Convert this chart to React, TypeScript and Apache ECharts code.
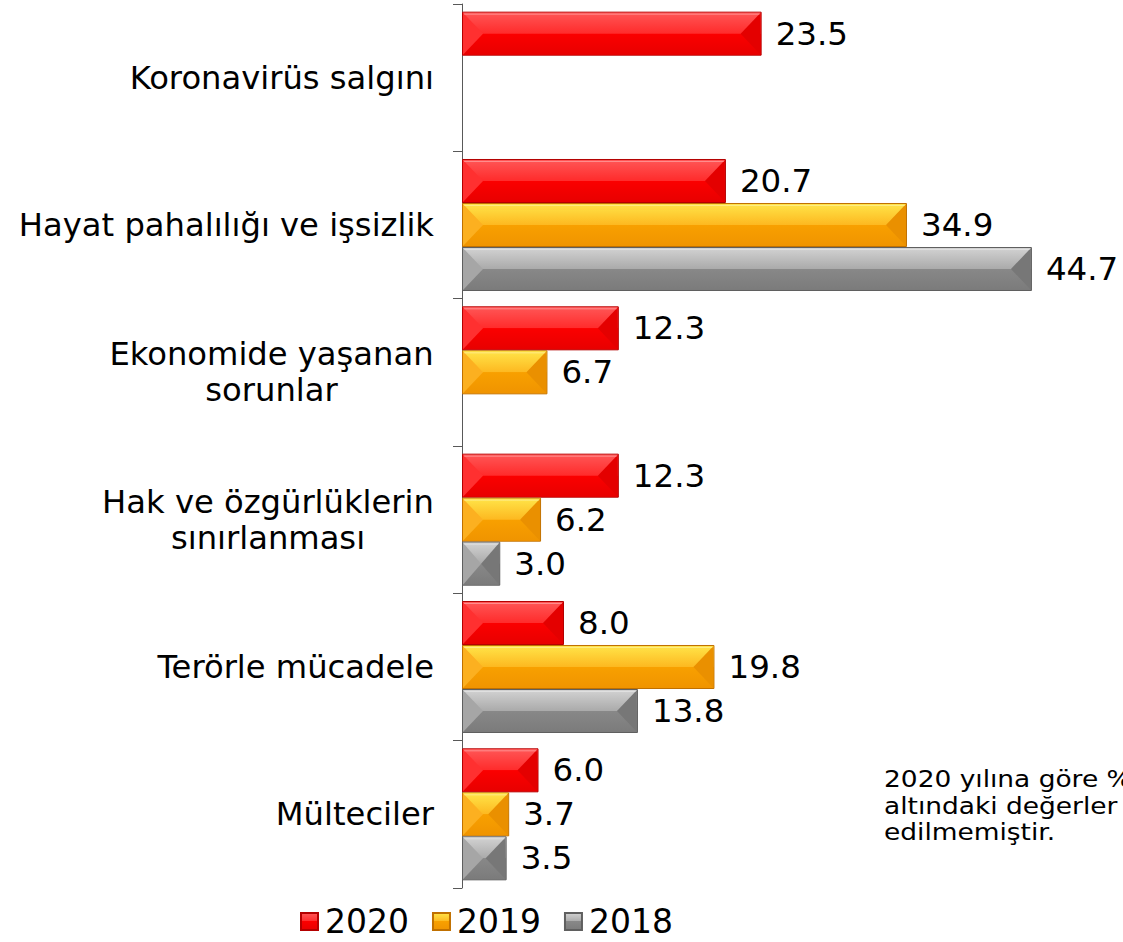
import React, { useEffect, useRef } from "react";
import * as echarts from "echarts";

const categories = [
  "Koronavirüs salgını",
  "Hayat pahalılığı ve işsizlik",
  "Ekonomide yaşanan\nsorunlar",
  "Hak ve özgürlüklerin\nsınırlanması",
  "Terörle mücadele",
  "Mülteciler",
];
const seriesNames = ["2020", "2019", "2018"];
const values2020 = [23.5, 20.7, 12.3, 12.3, 8.0, 6.0];
const values2019 = [null, 34.9, 6.7, 6.2, 19.8, 3.7];
const values2018 = [null, 44.7, null, 3.0, 13.8, 3.5];
const noteText = "2020 yılına göre %5\naltındaki değerler dahil\nedilmemiştir.";

const FONT = "Verdana, 'DejaVu Sans', sans-serif";
const GAP = 0.104;

function grad(stops: [number, string][]) {
  return new echarts.graphic.LinearGradient(
    0, 0, 0, 1,
    stops.map(([offset, color]) => ({ offset, color }))
  );
}

const palettes = [
  {
    base: "#f40000",
    border: "#b40000",
    top: ["#ff5656", "#ff2b2b"],
    bottom: ["#fb0000", "#e80000"],
    left: "#ff3030",
    right: "#e40000",
  },
  {
    base: "#f8a000",
    border: "#c07000",
    top: ["#ffe448", "#fdb820"],
    bottom: ["#f8a000", "#f09400"],
    left: "#fcb020",
    right: "#ea9000",
  },
  {
    base: "#888888",
    border: "#5f5f5f",
    top: ["#d2d2d2", "#aaaaaa"],
    bottom: ["#888888", "#7b7b7b"],
    left: "#a6a6a6",
    right: "#777777",
  },
];

function measure(text: string, size: number) {
  const c = document.createElement("canvas").getContext("2d");
  if (!c) return text.length * size * 0.6;
  c.font = `${size}px Verdana, 'DejaVu Sans', sans-serif`;
  return c.measureText(text).width;
}

export default function App() {
  const ref = useRef<HTMLDivElement>(null);
  useEffect(() => {
    document.body.style.margin = "0";
    if (!ref.current) return;
    const chart = echarts.init(ref.current, undefined, { renderer: "svg" });
    const labelSize = 32.2;
    const data = [values2020, values2019, values2018];

    const rich: Record<string, any> = {};
    const widthOf: Record<string, number> = {};
    categories.forEach((cat) => {
      const lines = cat.split("\n");
      if (lines.length > 1) {
        const w = Math.ceil(Math.max(...lines.map((l) => measure(l, labelSize))));
        widthOf[cat] = w;
        rich["c" + w] = {
          width: w,
          align: "center",
          fontSize: labelSize,
          fontFamily: FONT,
          color: "#000",
          lineHeight: 36,
        };
      }
    });

    const barSeries = seriesNames.map((name, i) => ({
      name,
      type: "bar",
      data: data[i],
      barGap: "0%",
      barCategoryGap: GAP * 100 + "%",
      z: 2,
      itemStyle: {
        color: grad([[0, palettes[i].top[0]], [0.5, palettes[i].top[1]], [0.5, palettes[i].bottom[0]], [1, palettes[i].bottom[1]]]),
        borderColor: palettes[i].border,
        borderWidth: 1,
      },
      label: {
        show: true,
        position: "right",
        distance: 14,
        fontSize: 32.5,
        color: "#000",
        fontFamily: FONT,
        formatter: (p: any) => (p.value == null ? "" : Number(p.value).toFixed(1)),
      },
    }));

    const bevelSeries = seriesNames.map((name, i) => ({
      type: "custom",
      silent: true,
      z: 3,
      data: data[i]
        .map((v, k) => [v, k])
        .filter((d) => d[0] != null),
      renderItem: (params: any, api: any) => {
        const v = api.value(0);
        const ci = api.value(1);
        const p0 = api.coord([0, ci]);
        const p1 = api.coord([v, ci]);
        const band = api.size([0, 1])[1];
        const bw = (band * (1 - GAP)) / 3;
        const y0 = p0[1] - (band * (1 - GAP)) / 2 + i * bw + 1;
        const y1 = y0 + bw - 2;
        const x0 = p0[0] + 1;
        const x1 = p1[0] - 1;
        const ym = (y0 + y1) / 2;
        const b = Math.min(20, (x1 - x0) / 2);
        const pal = palettes[i];
        return {
          type: "group",
          children: [
            {
              type: "polygon",
              shape: { points: [[x0, y0], [x1, y0], [x1 - b, ym], [x0 + b, ym]] },
              style: { fill: grad([[0, pal.top[0]], [1, pal.top[1]]]) },
            },
            {
              type: "polygon",
              shape: { points: [[x0, y1], [x1, y1], [x1 - b, ym], [x0 + b, ym]] },
              style: { fill: grad([[0, pal.bottom[0]], [1, pal.bottom[1]]]) },
            },
            {
              type: "polygon",
              shape: { points: [[x0, y0], [x0 + b, ym], [x0, y1]] },
              style: { fill: pal.left },
            },
            {
              type: "polygon",
              shape: { points: [[x1, y0], [x1 - b, ym], [x1, y1]] },
              style: { fill: pal.right },
            },
            {
              type: "line",
              shape: { x1: x0 + 1, y1: y0 + 1.5, x2: x1 - 1, y2: y0 + 1.5 },
              style: { stroke: "rgba(255,255,255,0.35)", lineWidth: 1 },
            },
          ],
        };
      },
    }));

    chart.setOption({
      animation: false,
      textStyle: { fontFamily: FONT },
      grid: { left: 462, top: 4, height: 884, right: 23.5 },
      xAxis: {
        type: "value",
        min: 0,
        max: 50,
        show: false,
      },
      yAxis: {
        type: "category",
        data: categories,
        inverse: true,
        axisLine: { show: true, lineStyle: { color: "#595959", width: 1 } },
        axisTick: { show: true, length: 9, lineStyle: { color: "#595959" } },
        axisLabel: {
          margin: 28,
          color: "#000",
          fontSize: labelSize,
          fontFamily: FONT,
          lineHeight: 36,
          formatter: (v: string) => {
            const lines = v.split("\n");
            if (lines.length === 1) return v;
            const w = widthOf[v];
            return lines.map((l) => `{c${w}|${l}}`).join("\n");
          },
          rich,
        },
        splitLine: { show: false },
      },
      legend: {
        left: 300,
        top: 905,
        padding: 0,
        icon: "rect",
        itemWidth: 17,
        itemHeight: 17,
        itemGap: 23,
        textStyle: { fontSize: 33, color: "#000", fontFamily: FONT, padding: [0, 0, 0, 2] },
        data: seriesNames,
      },
      graphic: [
        {
          type: "text",
          x: 884,
          y: 766,
          scaleX: 1.15,
          style: {
            text: noteText,
            fontSize: 23,
            lineHeight: 26.5,
            fill: "#000",
            fontFamily: FONT,
          },
        },
      ],
      series: [...barSeries, ...bevelSeries],
    });
    return () => chart.dispose();
  }, []);
  return <div ref={ref} style={{ width: 1123, height: 942 }} />;
}
